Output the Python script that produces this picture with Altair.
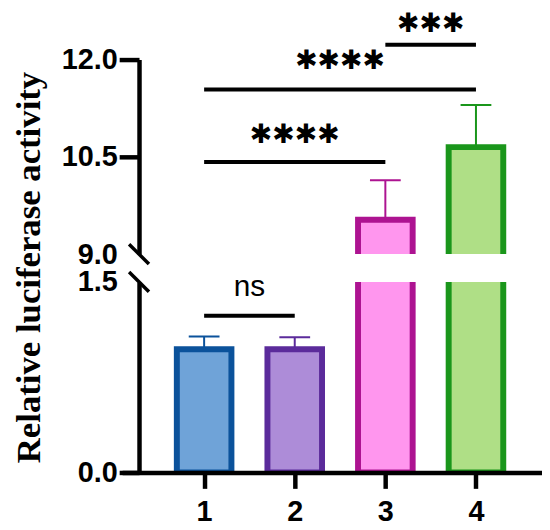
import altair as alt
import pandas as pd

# ---- data ----
groups = [1, 2, 3, 4]
group_names = ["1", "2", "3", "4"]
means = [0.97, 0.97, 9.53, 10.65]
errors = [0.10, 0.095, 0.61, 0.65]
fill_colors = ["#6fa3d8", "#ad8cd8", "#ff96ee", "#afdf86"]
stroke_colors = ["#0b529b", "#5b2b9b", "#ad1391", "#1a961b"]

cmp_start = [1, 1, 1, 3]
cmp_end = [2, 3, 4, 4]
cmp_line_y = [1.234, 10.42, 11.54, 12.23]
cmp_text_y = [1.39, 10.84, 11.97, 12.54]
cmp_text = ["ns", "✱✱✱✱", "✱✱✱✱", "✱✱✱"]
cmp_panel = ["lower", "upper", "upper", "upper"]

upper_domain = [9.0, 12.0]
lower_domain = [0.0, 1.5]
upper_ticks = [9.0, 10.5, 12.0]
lower_ticks = [0.0, 1.5]

bars = pd.DataFrame({
    "group": groups,
    "name": group_names,
    "mean": means,
    "upper": [m + e for m, e in zip(means, errors)],
})
cmp = pd.DataFrame({
    "start": cmp_start,
    "end": cmp_end,
    "mid": [(a + b) / 2 for a, b in zip(cmp_start, cmp_end)],
    "ly": cmp_line_y,
    "ty": cmp_text_y,
    "label": cmp_text,
    "panel": cmp_panel,
})

W = 423
x_scale = alt.Scale(domain=[0.15, 4.674], nice=False, zero=False)
fill_scale = alt.Scale(domain=group_names, range=fill_colors)
stroke_scale = alt.Scale(domain=group_names, range=stroke_colors)


def panel(ydomain, yticks, break_value, show_x, title, panel_name, height):
    yscale = alt.Scale(domain=ydomain, nice=False, zero=False)
    yaxis_kwargs = dict(
        values=yticks, format=".1f", tickSize=20, offset=-17, labelPadding=2,
        labelFlush=False, labelOverlap=False, grid=False,
        tickOpacity={"condition": {"test": f"datum.value === {break_value}", "value": 0}, "value": 1},
    )
    if title:
        yaxis_kwargs.update(
            title=title, titleFont="Liberation Serif", titleFontSize=35,
            titleFontWeight="bold", titleY=-15, titlePadding=31, titleColor="black",
        )
    else:
        yaxis_kwargs.update(title=None)
    if show_x:
        xaxis = alt.Axis(values=groups, format="d", tickSize=16, labelPadding=9,
                         title=None, grid=False, zindex=1, labelFlush=False)
    else:
        xaxis = None

    base = alt.Chart(bars)
    bar = base.mark_bar(size=55, strokeWidth=6, strokeJoin="miter", clip=True, opacity=1).encode(
        x=alt.X("group:Q", scale=x_scale, axis=xaxis),
        y=alt.Y("mean:Q", scale=yscale, axis=alt.Axis(**yaxis_kwargs)),
        y2=alt.datum(0),
        fill=alt.Fill("name:N", scale=fill_scale, legend=None),
        stroke=alt.Stroke("name:N", scale=stroke_scale, legend=None),
    )
    err = base.mark_rule(strokeWidth=2, clip=True).encode(
        x="group:Q", y="mean:Q", y2="upper:Q",
        color=alt.Color("name:N", scale=stroke_scale, legend=None),
    )
    cap = base.mark_tick(orient="horizontal", size=31, thickness=2, clip=True, opacity=1).encode(
        x="group:Q", y="upper:Q",
        color=alt.Color("name:N", scale=stroke_scale, legend=None),
    )
    sub = alt.Chart(cmp).transform_filter(alt.datum.panel == panel_name)
    lines = sub.mark_rule(strokeWidth=4, color="black", strokeCap="butt").encode(
        x="start:Q", x2="end:Q", y="ly:Q",
    )
    if panel_name == "upper":
        texts = sub.mark_text(font="DejaVu Sans", fontSize=27, baseline="middle",
                              color="black").encode(x="mid:Q", y="ty:Q", text="label:N")
    else:
        texts = sub.mark_text(font="Liberation Sans", fontSize=30, baseline="alphabetic",
                              color="black").encode(x="mid:Q", y="ty:Q", text="label:N")
    brk = alt.Chart(pd.DataFrame({"v": [break_value]})).mark_point(
        shape="M-1,-1L1,1", size=400, strokeWidth=3.5, color="black",
        filled=False, opacity=1,
    ).encode(x=alt.value(17), y="v:Q")

    return alt.layer(bar, err, cap, lines, texts, brk).properties(width=W, height=height)


upper = panel(upper_domain, upper_ticks, 9.0, False, None, "upper", 196)
lower = panel(lower_domain, lower_ticks, 1.5, True, "Relative luciferase activity", "lower", 192)

chart = alt.vconcat(upper, lower, spacing=28, bounds="flush").properties(
    padding={"left": 3, "top": 0, "right": 0, "bottom": 0}
).configure_view(stroke=None).configure_axis(
    domainColor="black", tickColor="black", labelColor="black",
    domainWidth=4.5, tickWidth=4.5,
    labelFont="Liberation Sans", labelFontWeight="bold", labelFontSize=29,
)

chart.save("out.html", embed_options={"renderer": "svg", "actions": False})
